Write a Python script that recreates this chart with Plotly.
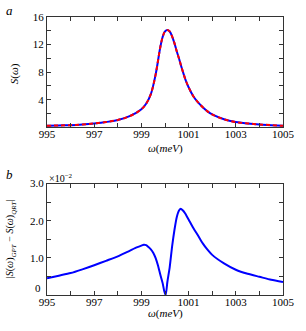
import plotly.graph_objects as go
from plotly.subplots import make_subplots

# ---- data ----
w_a = [995, 995.5, 996, 996.5, 997, 997.5, 998, 998.5, 999, 999.2, 999.4, 999.6,
       999.8, 999.9, 1000.0, 1000.1, 1000.2, 1000.3, 1000.4, 1000.5, 1000.6, 1000.7,
       1000.8, 1000.9, 1001.0, 1001.2, 1001.4, 1001.6, 1001.8, 1002.0, 1002.5, 1003.0,
       1003.5, 1004.0, 1004.5, 1005.0]
s_gpt = [0.2, 0.25, 0.3, 0.4, 0.55, 0.75, 1.05, 1.6, 2.6, 3.4, 4.8, 7.6,
         11.6, 13.1, 13.9, 14.1, 13.9, 13.2, 12.2, 11.0, 9.9, 8.7,
         7.6, 6.6, 5.8, 4.5, 3.6, 2.9, 2.3, 1.85, 1.15, 0.75,
         0.55, 0.4, 0.3, 0.2]
s_qrt = [0.2, 0.25, 0.3, 0.4, 0.55, 0.75, 1.05, 1.6, 2.6, 3.4, 4.8, 7.6,
         11.6, 13.1, 13.9, 14.1, 13.9, 13.2, 12.2, 11.0, 9.9, 8.7,
         7.6, 6.6, 5.8, 4.5, 3.6, 2.9, 2.3, 1.85, 1.15, 0.75,
         0.55, 0.4, 0.3, 0.2]

w_b = [995, 995.5, 996, 996.5, 997, 997.5, 998, 998.5, 998.8, 999.0, 999.1, 999.2,
       999.3, 999.4, 999.5, 999.6, 999.7, 999.8, 999.9, 999.97, 1000.03, 1000.1,
       1000.2, 1000.3, 1000.4, 1000.5, 1000.6, 1000.67, 1000.75, 1000.85, 1001.0,
       1001.2, 1001.4, 1001.6, 1001.8, 1002.0, 1002.5, 1003.0, 1003.5, 1004.0,
       1004.5, 1005.0]
diff = [0.45, 0.52, 0.59, 0.69, 0.80, 0.92, 1.04, 1.19, 1.28, 1.33, 1.35, 1.34,
        1.29, 1.23, 1.14, 1.0, 0.8, 0.55, 0.32, 0.1, 0.0, 0.35,
        0.75, 1.3, 1.75, 2.1, 2.28, 2.32, 2.28, 2.2, 2.03,
        1.8, 1.6, 1.39, 1.22, 1.08, 0.85, 0.68, 0.57, 0.49,
        0.41, 0.35]

x_major = [995, 997, 999, 1001, 1003, 1005]
x_minor = [996, 998, 1000, 1002, 1004]
ya_major = [4, 8, 12, 16]
ya_minor = [0, 2, 6, 10, 14]
yb_major = [1.0, 2.0, 3.0]
yb_labels = ["1.0", "2.0", "3.0"]
yb_minor = [0, 0.5, 1.5, 2.5]

FONT = "Liberation Serif, DejaVu Serif, serif"
AX = "#333333"

fig = make_subplots(rows=2, cols=1, vertical_spacing=0.0)
fig.add_trace(go.Scatter(x=w_a, y=s_gpt, mode="lines", line=dict(color="#0000ff", width=2, shape="spline")), 1, 1)
fig.add_trace(go.Scatter(x=w_a, y=s_qrt, mode="lines", line=dict(color="#ff0000", width=2, dash="4px,3px", shape="spline")), 1, 1)
fig.add_trace(go.Scatter(x=w_b, y=diff, mode="lines", line=dict(color="#0000ff", width=2, shape="spline", smoothing=0.6)), 2, 1)

def minor(vals):
    return dict(tickmode="array", tickvals=vals, ticks="inside", ticklen=4, tickcolor=AX, showgrid=False)

common_x = dict(range=[995, 1005], tickmode="array", tickvals=x_major, ticks="inside", ticklen=4,
                tickcolor=AX, showline=True, linecolor=AX, linewidth=1, mirror="ticks",
                showgrid=False, zeroline=False, ticklabelstandoff=-3, minor=minor(x_minor),
                tickfont=dict(family=FONT, size=11, color="black"))
fig.update_xaxes(**common_x, domain=[0, 1])
common_y = dict(ticks="inside", ticklen=4, tickcolor=AX, showline=True, linecolor=AX, linewidth=1,
                mirror="ticks", showgrid=False, zeroline=False, tickmode="array",
                tickfont=dict(family=FONT, size=11, color="black"))
fig.update_yaxes(**common_y, range=[0, 16], tickvals=ya_major, minor=minor(ya_minor),
                 domain=[0.6036, 1.0], row=1, col=1)
fig.update_yaxes(**common_y, range=[0, 3.0], tickvals=yb_major, ticktext=yb_labels, minor=minor(yb_minor),
                 domain=[0.0, 0.401], row=2, col=1)

ann = []
def A(text, x, y, size=11, **kw):
    d = dict(text=text, x=x, y=y, xref="paper", yref="paper", showarrow=False,
             font=dict(family=FONT, size=size, color="black"))
    d.update(kw)
    ann.append(d)

# pixel -> paper: x=(px-47)/248, y=(295-py)/280
A("<i>a</i>", (8 - 47) / 248, (295 - 8) / 280, size=13, xanchor="center", yanchor="middle")
A("<i>b</i>", (8 - 47) / 248, (295 - 174) / 280, size=13, xanchor="center", yanchor="middle")
A("<i>ω</i>(<i>meV</i>)", 0.5, (295 - 147) / 280, size=11, xanchor="center", yanchor="middle")
A("<i>ω</i>(<i>meV</i>)", 0.5, (295 - 314) / 280, size=11, xanchor="center", yanchor="middle")
A("<i>S</i>(<i>ω</i>)", (13 - 47) / 248, (295 - 72) / 280, size=11, textangle=-90, xanchor="center", yanchor="middle")
A("|<i>S</i>(<i>ω</i>)<sub><i>GPT</i></sub> − <i>S</i>(<i>ω</i>)<sub><i>QRT</i></sub>|", (9 - 47) / 248, (295 - 238) / 280,
  size=10, textangle=-90, xanchor="center", yanchor="middle")
A("×10<sup>−2</sup>", 0.0, (295 - 177) / 280, size=10, xanchor="left", yanchor="middle")
A("0", (43 - 47) / 248, (295 - 288) / 280, size=11, xanchor="right", yanchor="middle")

fig.update_layout(width=306, height=331, margin=dict(l=47, r=11, t=15, b=36),
                  paper_bgcolor="white", plot_bgcolor="white", showlegend=False,
                  annotations=ann)
fig.write_html("out.html", config={"displayModeBar": False},
               post_script="document.body.style.margin='0';")
